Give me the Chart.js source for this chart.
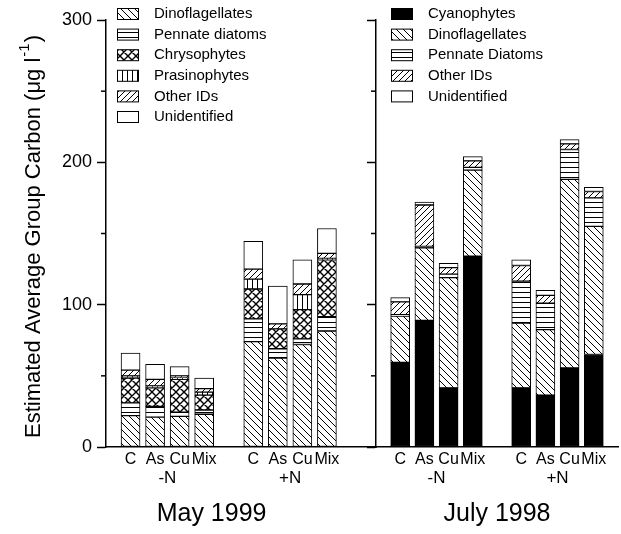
<!DOCTYPE html>
<html lang="en">
<head>
<meta charset="UTF-8">
<title>Estimated Average Group Carbon</title>
<style>
  body { margin: 0; background: #fff; }
  #wrap { position: relative; width: 621px; height: 534px; }
  #wrap canvas { position: absolute; top: 0; }
  #may { left: 0; }
  #july { left: 360px; }
</style>
</head>
<body>
<div id="wrap">
  <canvas id="may" width="380" height="534"></canvas>
  <canvas id="july" width="261" height="534"></canvas>
</div>
<script src="https://cdn.jsdelivr.net/npm/chart.js@4.4.0/dist/chart.umd.min.js"></script>
<script>
const treatments = ['C', 'As', 'Cu', 'Mix'];
const nutrient = ['-N', '+N'];
const minorTicks = [50, 150, 250];

// May 1999: -N (C, As, Cu, Mix) then +N (C, As, Cu, Mix)
const mayDino = [22, 21, 21.5, 23, 74, 62.5, 72, 81.5];
const mayPennate = [9, 7.5, 3, 3, 16, 6.5, 4, 10];
const mayChryso = [17.5, 13, 23, 10.5, 21, 14, 20.5, 40];
const mayPrasino = [1.5, 1.5, 1, 2, 7, 0, 10.5, 1];
const mayOther = [4, 4.5, 1.5, 2.5, 7, 3.5, 7.5, 3.5];
const mayUnident = [12, 10.5, 6.5, 7.5, 19.5, 26.5, 17, 17.5];

// July 1998
const julCyano = [59.5, 89, 41.5, 134, 41.5, 36.5, 55.5, 65];
const julDino = [32.5, 51, 77.5, 60.5, 45.5, 46, 132.5, 90];
const julPennate = [1, 1, 2.5, 2, 29.5, 18.5, 21, 20];
const julOther = [9, 29, 4.5, 4.5, 11, 5.5, 4, 4.5];
const julUnident = [3, 2, 3, 3, 4, 3.5, 3, 3];

const FONT = "'Liberation Sans', Arial, sans-serif";

// hatch fills
function hatch(size, draw, lw) {
    const c = document.createElement('canvas');
    c.width = size;
    c.height = size;
    const g = c.getContext('2d');
    g.fillStyle = '#fff';
    g.fillRect(0, 0, size, size);
    g.strokeStyle = '#000';
    g.lineWidth = lw || 1;
    g.beginPath();
    draw(g, size);
    g.stroke();
    return g.createPattern(c, 'repeat');
}
const back = (g, s) => {
    g.moveTo(0, 0); g.lineTo(s, s);
    g.moveTo(-1, s - 1); g.lineTo(1, s + 1);
    g.moveTo(s - 1, -1); g.lineTo(s + 1, 1);
};
const fwd = (g, s) => {
    g.moveTo(0, s); g.lineTo(s, 0);
    g.moveTo(-1, 1); g.lineTo(1, -1);
    g.moveTo(s - 1, s + 1); g.lineTo(s + 1, s - 1);
};
const fill = {
    cyano: '#000',
    dino: hatch(7, back),
    pennate: hatch(5, (g, s) => { g.moveTo(0, 2.5); g.lineTo(s, 2.5); }),
    chryso: hatch(8, (g, s) => { back(g, s); fwd(g, s); }, 1.4),
    prasino: hatch(5, (g, s) => { g.moveTo(2.5, 0); g.lineTo(2.5, s); }),
    other: hatch(6, fwd),
    unident: '#fff'
};

function slotLabels(trailing) {
    return ['', ...treatments, '', ...treatments, ...Array(trailing).fill('')];
}
function slots(values, trailing) {
    return [null, ...values.slice(0, 4), null, ...values.slice(4), ...Array(trailing).fill(null)];
}

function panel(id, title, series, o) {
    const trailing = o.trailing;
    const datasets = series.map(s => ({
        label: s[0],
        data: slots(s[1], trailing),
        backgroundColor: s[2],
        borderColor: '#000',
        borderWidth: 1,
        borderSkipped: false,
        barThickness: 19
    }));

    const decor = {
        id: 'decor',
        afterDraw(chart) {
            const ctx = chart.ctx;
            const x = chart.scales.x;
            const y = chart.scales.y;
            const area = chart.chartArea;
            ctx.save();
            ctx.strokeStyle = '#000';
            ctx.fillStyle = '#000';
            ctx.lineWidth = 1.5;
            minorTicks.forEach(v => {
                const p = y.getPixelForValue(v);
                ctx.beginPath();
                ctx.moveTo(y.right - 5, p);
                ctx.lineTo(y.right, p);
                ctx.stroke();
            });

            // legend
            ctx.font = '15px ' + FONT;
            ctx.textBaseline = 'middle';
            ctx.textAlign = 'left';
            ctx.lineWidth = 1;
            chart.data.datasets.forEach((ds, i) => {
                const lx = area.left + o.legendDx;
                const ly = o.legendTop + i * 20.6;
                ctx.fillStyle = ds.backgroundColor;
                ctx.fillRect(lx, ly - 5.5, 22, 11);
                ctx.strokeRect(lx + 0.5, ly - 5.5, 21, 11);
                ctx.fillStyle = '#000';
                ctx.fillText(ds.label, lx + 37, ly);
            });

            // -N / +N and panel title
            ctx.textAlign = 'center';
            ctx.font = '17px ' + FONT;
            nutrient.forEach((n, g) => {
                const a = x.getPixelForValue(2 + g * 5);
                const b = x.getPixelForValue(3 + g * 5);
                ctx.fillText(n, (a + b) / 2, 478);
            });
            ctx.font = '25px ' + FONT;
            ctx.fillText(title, o.titleX(chart), 514);

            if (o.yTitle) {
                ctx.translate(34, 438);
                ctx.rotate(-Math.PI / 2);
                ctx.textAlign = 'left';
                ctx.font = '22px ' + FONT;
                const main = 'Estimated Average Group Carbon (\u03bcg l';
                ctx.fillText(main, 0, 0);
                let w = ctx.measureText(main).width;
                ctx.font = '15px ' + FONT;
                ctx.fillText('-1', w + 1, -9);
                w += ctx.measureText('-1').width + 2;
                ctx.font = '22px ' + FONT;
                ctx.fillText(')', w, 0);
            }
            ctx.restore();
        }
    };

    return new Chart(document.getElementById(id), {
        type: 'bar',
        data: { labels: slotLabels(trailing), datasets },
        options: {
            responsive: false,
            animation: false,
            layout: { padding: { top: 20, right: o.padRight } },
            plugins: { legend: { display: false }, tooltip: { enabled: false } },
            scales: {
                x: {
                    stacked: true,
                    offset: false,
                    grid: { display: false, drawTicks: false },
                    border: { color: '#000', width: 1.5 },
                    ticks: { autoSkip: false, maxRotation: 0, color: '#000', font: { family: FONT, size: 16 }, padding: 3 },
                    afterFit(s) { s.height = 87; }
                },
                y: {
                    stacked: true,
                    min: 0,
                    max: 300,
                    ticks: { stepSize: 100, display: o.yLabels, color: '#000', font: { family: FONT, size: 18 }, padding: 5 },
                    grid: { drawOnChartArea: false, tickLength: 9, tickColor: '#000', tickWidth: 1.5 },
                    border: { color: '#000', width: 1.5 },
                    afterFit(s) { s.width = o.yWidth; }
                }
            }
        },
        plugins: [decor]
    });
}

panel('may', 'May 1999', [
    ['Dinoflagellates', mayDino, fill.dino],
    ['Pennate diatoms', mayPennate, fill.pennate],
    ['Chrysophytes', mayChryso, fill.chryso],
    ['Prasinophytes', mayPrasino, fill.prasino],
    ['Other IDs', mayOther, fill.other],
    ['Unidentified', mayUnident, fill.unident]
], {
    trailing: 2, padRight: 4, yWidth: 106, yLabels: true, yTitle: true,
    legendDx: 11, legendTop: 14,
    titleX: c => c.scales.x.getPixelForValue(4.3)
});

panel('july', 'July 1998', [
    ['Cyanophytes', julCyano, fill.cyano],
    ['Dinoflagellates', julDino, fill.dino],
    ['Pennate Diatoms', julPennate, fill.pennate],
    ['Other IDs', julOther, fill.other],
    ['Unidentified', julUnident, fill.unident]
], {
    trailing: 1, padRight: 0.5, yWidth: 16, yLabels: false, yTitle: false,
    legendDx: 15, legendTop: 14,
    titleX: c => (c.chartArea.left + c.chartArea.right) / 2
});
</script>
</body>
</html>
